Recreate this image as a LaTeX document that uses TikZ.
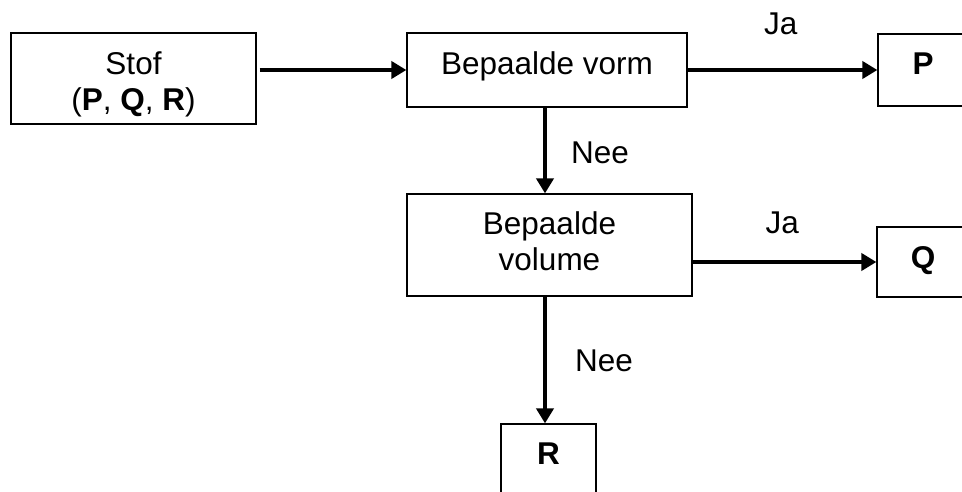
\documentclass[tikz,border=0pt]{standalone}
\usepackage{fontspec}
\setmainfont{Liberation Sans}
\usetikzlibrary{arrows.meta}
\tikzset{
  box/.style={draw=black, line width=1.2pt, inner sep=0pt, align=center,
    font=\fontsize{31.5}{36}\selectfont},
  lbl/.style={anchor=base, inner sep=0pt, font=\fontsize{31.5}{36}\selectfont},
  arr/.style={line width=4pt, -{Triangle[length=15pt,width=17pt]}}
}
\begin{document}
\begin{tikzpicture}[x=1pt,y=-1pt]
\useasboundingbox (0,0) rectangle (962,492);
\clip (0,0) rectangle (962,492);
\fill[white] (0,0) rectangle (962,492);
\node[box, minimum width=245pt, minimum height=91pt, text height=70pt, text depth=5.6pt] (stof) at (133.5,78.5) {Stof\\(\textbf{P}, \textbf{Q}, \textbf{R})};
\node[box, minimum width=280pt, minimum height=74pt, text height=24pt, text depth=15.4pt] (vorm) at (547,70) {Bepaalde vorm};
\node[box, minimum width=285pt, minimum height=102pt, text height=70pt, text depth=20pt] (volume) at (549.5,245) {Bepaalde\\volume};
\node[box, minimum width=90pt, minimum height=72pt, text height=24pt, text depth=14pt] (P) at (923,70) {\textbf{P}};
\node[box, minimum width=92pt, minimum height=70pt, text height=24pt, text depth=10pt] (Q) at (923,262) {\textbf{Q}};
\node[box, minimum width=95pt, minimum height=80pt, text height=20pt, text depth=20pt] (R) at (548.5,464) {\textbf{R}};
\coordinate (ax) at (545,0);
\draw[arr] ([xshift=3pt]stof.east |- vorm.west) -- (vorm.west);
\draw[arr] (vorm.east) -- (P.west);
\draw[arr] (ax |- vorm.south) -- (ax |- volume.north);
\draw[arr] (volume.east |- Q.west) -- (Q.west);
\draw[arr] (ax |- volume.south) -- (ax |- R.north);
\node[lbl] (ja1) at (780.7,34.3) {Ja};
\node[lbl] (ja2) at (782.3,233.3) {Ja};
\node[lbl] (nee1) at (600,163.3) {Nee};
\node[lbl] (nee2) at (604,371.7) {Nee};
\end{tikzpicture}
\end{document}
